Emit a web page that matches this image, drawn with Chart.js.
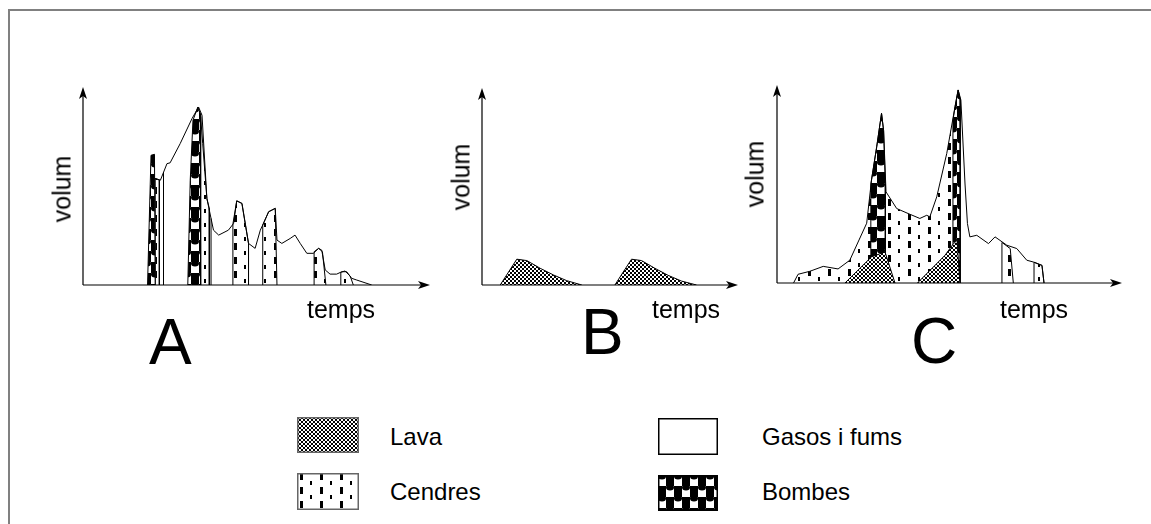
<!DOCTYPE html>
<html>
<head>
<meta charset="utf-8">
<script src="https://cdn.jsdelivr.net/npm/chart.js@4.4.1/dist/chart.umd.min.js"></script>
<style>
  body { margin: 0; background: #fff; }
  #wrap { position: relative; width: 1151px; height: 524px; overflow: hidden; font-family: "Liberation Sans", Arial, sans-serif; color: #000; }
  #frame { position: absolute; left: 8px; top: 9px; width: 1200px; height: 600px; border-left: 2px solid #808080; border-top: 2px solid #808080; }
  canvas.plot { position: absolute; }
  .lbl { position: absolute; white-space: nowrap; font-size: 25px; line-height: 1; }
  .vol { transform: translate(-50%, -50%) rotate(-90deg); }
  .big { position: absolute; font-size: 64px; line-height: 1; }
  .leg { position: absolute; font-size: 24px; line-height: 1; transform: translateY(-50%); }
  canvas.sw { position: absolute; }
</style>
</head>
<body>
<div id="wrap">
  <div id="frame"></div>
  <canvas id="chartA" class="plot"></canvas>
  <canvas id="chartB" class="plot"></canvas>
  <canvas id="chartC" class="plot"></canvas>

  <div class="lbl vol" style="left:62px; top:189px;">volum</div>
  <div class="lbl vol" style="left:461px; top:177px;">volum</div>
  <div class="lbl vol" style="left:755px; top:174px;">volum</div>
  <div class="lbl" style="left:307px; top:297px;">temps</div>
  <div class="lbl" style="left:652px; top:297px;">temps</div>
  <div class="lbl" style="left:1000px; top:297px;">temps</div>
  <div class="big" style="left:149px; top:310px;">A</div>
  <div class="big" style="left:581px; top:300px;">B</div>
  <div class="big" style="left:911px; top:309px;">C</div>

  <canvas id="swLava" class="sw" width="62" height="36" style="left:297px; top:417px;"></canvas>
  <canvas id="swAsh" class="sw" width="62" height="37" style="left:297px; top:473px;"></canvas>
  <canvas id="swGas" class="sw" width="60" height="37" style="left:658px; top:418px;"></canvas>
  <canvas id="swBomb" class="sw" width="60" height="36" style="left:658px; top:475px;"></canvas>
  <div class="leg" style="left:390px; top:437px;">Lava</div>
  <div class="leg" style="left:390px; top:492px;">Cendres</div>
  <div class="leg" style="left:762px; top:437px;">Gasos i fums</div>
  <div class="leg" style="left:762px; top:492px;">Bombes</div>
</div>
<script>
// points are [temps, volum], both axes 0..100 (100 = arrow tip)

// A
const aGas = [[20.8,53.8],[22.3,52.9],[24.2,61.3],[25.1,61.7],[28.0,71.4],[31.4,84.0],[33.3,89.9],[34.3,85.7],[35.7,43.7],[37.6,27.7],[39.1,25.2],[41.9,27.7],[43.4,31.1],[44.3,42.5],[45.8,41.2],[47.7,21.0],[49.6,18.5],[51.1,27.7],[52.0,31.1],[53.5,37.0],[55.4,38.7],[55.9,22.7],[57.3,21.0],[59.7,23.5],[61.1,25.2],[62.6,21.0],[64.5,16.0],[66.4,16.0],[67.9,18.5],[68.8,17.6],[69.8,7.6],[71.2,5.5],[73.1,5.5],[74.6,6.7],[76.0,6.7],[77.4,3.4],[78.9,2.5],[83.2,0]];
const aGasCuts = [[23.2,57.1],[36.9,33.6]];
const aBomb1 = [[18.6,0],[19.6,65.5],[20.6,66.0],[20.8,0]];
const aBomb2 = [[30.2,0],[30.9,52.9],[31.7,83.2],[33.1,89.9],[33.8,86.6],[33.9,0]];
const aAsh1 = [[20.8,0],[20.8,53.8],[22.0,53.1],[22.0,0]];
const aAsh2 = [[33.9,0],[33.9,84.9],[34.5,71.4],[35.7,43.7],[36.4,38.7],[36.4,0]];
const aAsh3 = [[43.2,0],[43.2,30.8],[44.3,42.5],[45.8,41.2],[47.7,21.0],[47.7,0]];
const aAsh4 = [[51.8,0],[51.8,30.3],[53.5,37.0],[55.4,38.7],[55.9,0]];
const aAsh5 = [[66.6,0],[66.6,16.8],[67.9,18.5],[69.0,16.8],[70.0,0]];
const aAsh6 = [[74.3,0],[74.3,6.4],[75.5,7.1],[77.0,4.5],[77.9,0]];

// B
const bLava1 = [[7.1,0],[13.6,13.1],[17.5,12.4],[22.7,8.5],[27.9,5.1],[33.1,2.2],[39.0,0]];
const bLava2 = [[51.9,0],[58.4,13.1],[62.3,12.4],[67.5,8.5],[72.7,4.9],[77.9,2.0],[83.8,0]];

// C
const cGas = [[4.8,0],[6.1,4.4],[9.5,5.9],[13.4,8.4],[17.7,7.1],[21.1,11.5],[26.0,30.2],[27.4,52.0],[28.9,68.8],[30.3,85.7],[30.9,77.0],[31.6,46.0],[34.7,37.6],[38.0,35.1],[41.4,32.6],[43.4,34.2],[44.3,33.4],[46.3,43.5],[49.2,65.4],[51.6,89.0],[52.5,97.5],[53.3,92.4],[54.5,50.0],[55.2,30.0],[55.9,23.3],[57.9,24.1],[61.3,19.9],[63.2,23.3],[66.6,19.1],[69.5,17.4],[72.4,11.5],[74.3,10.6],[76.8,8.9],[77.4,0]];
const cAshMain = [[4.8,0],[6.1,4.4],[9.5,5.9],[13.4,8.4],[17.7,7.1],[21.1,11.5],[26.0,30.2],[27.4,52.0],[28.9,68.8],[30.3,85.7],[30.9,77.0],[31.6,46.0],[34.7,37.6],[38.0,35.1],[41.4,32.6],[43.4,34.2],[44.3,33.4],[46.3,43.5],[49.2,65.4],[51.6,89.0],[52.5,97.5],[53.1,93.0],[53.1,0]];
const cAsh2 = [[65.2,0],[65.2,20.5],[67.6,17.4],[68.5,0]];
const cAsh3 = [[74.5,0],[74.5,10.5],[76.8,8.9],[77.4,0]];
const cBomb1 = [[27.2,0],[27.2,50.0],[28.9,68.8],[30.3,85.7],[30.9,77.0],[31.4,50.0],[31.4,0]];
const cBomb2 = [[51.0,0],[51.0,82.0],[51.6,89.0],[52.5,97.5],[53.1,93.0],[53.1,0]];
const cLava1 = [[19.7,0],[27.4,13.2],[31.3,15.7],[34.2,0]];
const cLava2 = [[40.7,0],[48.7,14.0],[51.0,19.5],[52.2,21.6],[53.0,0]];

// axis frames in page pixels: y axis x, arrow top, baseline, arrow tip x
const boxA = { x: 83, top: 87, base: 285, tip: 430 };
const boxB = { x: 482, top: 88, base: 285, tip: 738 };
const boxC = { x: 777, top: 85, base: 283, tip: 1122 };

function makeTile(w, h, draw) {
  const c = document.createElement('canvas');
  c.width = w; c.height = h;
  const g = c.getContext('2d');
  g.fillStyle = '#fff';
  g.fillRect(0, 0, w, h);
  g.fillStyle = '#000';
  draw(g);
  return c;
}
const lavaTile = makeTile(4, 4, g => { g.fillRect(0, 0, 2, 2); g.fillRect(2, 2, 2, 2); });
const ashTile = makeTile(20, 14, g => { g.fillRect(3, 0, 3, 7); g.fillRect(13, 8, 2, 4); });
const bombTile = makeTile(16, 22, g => {
  g.fillRect(8, 0, 8, 11);
  g.fillRect(0, 11, 8, 11);
  g.beginPath(); g.ellipse(4, 1.5, 4, 3, 0, 0, Math.PI * 2); g.fill();
  g.beginPath(); g.ellipse(12, 12.5, 4, 3, 0, 0, Math.PI * 2); g.fill();
});

function pat(tile) {
  return document.createElement('canvas').getContext('2d').createPattern(tile, 'repeat');
}

const axesArrows = {
  id: 'axesArrows',
  afterDraw(chart) {
    const { ctx, chartArea: a } = chart;
    ctx.save();
    ctx.strokeStyle = '#000';
    ctx.fillStyle = '#000';
    ctx.lineWidth = 1.2;
    ctx.beginPath();
    ctx.moveTo(a.left, a.bottom);
    ctx.lineTo(a.left, a.top + 6);
    ctx.moveTo(a.left, a.bottom);
    ctx.lineTo(a.right - 6, a.bottom);
    ctx.stroke();
    ctx.beginPath();
    ctx.moveTo(a.left, a.top);
    ctx.lineTo(a.left - 4, a.top + 12);
    ctx.lineTo(a.left, a.top + 9);
    ctx.lineTo(a.left + 4, a.top + 12);
    ctx.closePath();
    ctx.moveTo(a.right, a.bottom);
    ctx.lineTo(a.right - 12, a.bottom - 4);
    ctx.lineTo(a.right - 9, a.bottom);
    ctx.lineTo(a.right - 12, a.bottom + 4);
    ctx.closePath();
    ctx.fill();
    ctx.restore();
  }
};

function area(data, fillStyle, order, border) {
  return {
    data: data.map(p => ({ x: p[0], y: p[1] })),
    fill: 'origin',
    backgroundColor: fillStyle,
    borderColor: '#000',
    borderWidth: border,
    pointRadius: 0,
    tension: 0,
    order: order
  };
}
function outline(data, order) {
  return {
    data: data.map(p => ({ x: p[0], y: p[1] })),
    fill: false,
    borderColor: '#000',
    borderWidth: 1,
    pointRadius: 0,
    tension: 0,
    order: order
  };
}

function build(id, box, datasets) {
  const pad = 12;
  const cv = document.getElementById(id);
  cv.width = box.tip - box.x + pad * 2;
  cv.height = box.base - box.top + pad * 2;
  cv.style.left = (box.x - pad) + 'px';
  cv.style.top = (box.top - pad) + 'px';
  return new Chart(cv, {
    type: 'line',
    data: { datasets: datasets },
    options: {
      responsive: false,
      animation: false,
      devicePixelRatio: 1,
      layout: { padding: pad },
      plugins: { legend: { display: false }, tooltip: { enabled: false } },
      scales: {
        x: { type: 'linear', min: 0, max: 100, display: false },
        y: { type: 'linear', min: 0, max: 100, display: false }
      }
    },
    plugins: [axesArrows]
  });
}

const lava = pat(lavaTile), ash = pat(ashTile), bomb = pat(bombTile);

build('chartA', boxA, [
  outline(aGas, 0),
  outline([[aGasCuts[0][0], 0], aGasCuts[0]], 0),
  outline([[aGasCuts[1][0], 0], aGasCuts[1]], 0),
  area(aBomb1, bomb, 1, 1),
  area(aBomb2, bomb, 1, 1),
  area(aAsh1, ash, 2, 1),
  area(aAsh2, ash, 2, 1),
  area(aAsh3, ash, 2, 1),
  area(aAsh4, ash, 2, 1),
  area(aAsh5, ash, 2, 1),
  area(aAsh6, ash, 2, 1)
]);

build('chartB', boxB, [
  area(bLava1, lava, 0, 1),
  area(bLava2, lava, 0, 1)
]);

build('chartC', boxC, [
  outline(cGas, 0),
  area(cLava1, lava, 1, 1),
  area(cLava2, lava, 1, 1),
  area(cAsh2, ash, 1, 1),
  area(cAsh3, ash, 1, 1),
  area(cBomb1, bomb, 2, 1),
  area(cBomb2, bomb, 2, 1),
  area(cAshMain, ash, 3, 0)
]);

// legend swatches
function swatch(id, fill, stroke) {
  const cv = document.getElementById(id);
  const g = cv.getContext('2d');
  g.fillStyle = fill;
  g.fillRect(0, 0, cv.width, cv.height);
  g.strokeStyle = stroke;
  g.lineWidth = 1.5;
  g.strokeRect(0.75, 0.75, cv.width - 1.5, cv.height - 1.5);
}
swatch('swLava', lava, '#666');
swatch('swAsh', ash, '#666');
swatch('swGas', '#fff', '#000');
swatch('swBomb', bomb, '#000');
</script>
</body>
</html>
